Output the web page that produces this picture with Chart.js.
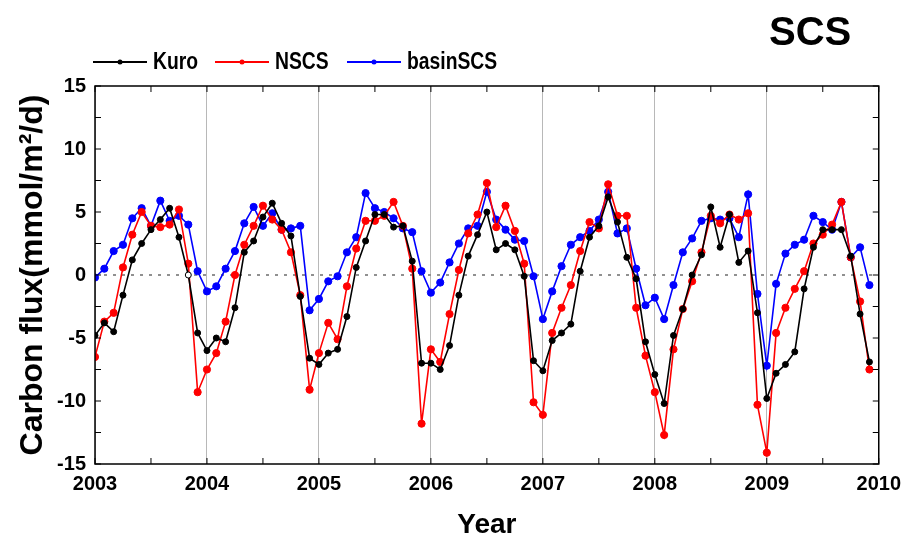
<!DOCTYPE html>
<html lang="en">
<head>
<meta charset="UTF-8">
<title>SCS carbon flux</title>
<script src="https://cdn.jsdelivr.net/npm/chart.js@4.4.1/dist/chart.umd.min.js"></script>
<style>
  html, body { margin: 0; padding: 0; background: #fff; }
  #wrap { width: 909px; height: 542px; }
</style>
</head>
<body>
<div id="wrap"><canvas id="fluxChart" width="909" height="542"></canvas></div>
<script>
    // monthly values, Jan 2003 .. Dec 2009 (mmol/m2/d)
    var startYear = 2003;
    var kuro = [
        -4.8, -3.8, -4.5, -1.6, 1.2, 2.5, 3.6, 4.4, 5.3, 3.0, 0.0, -4.6,
        -6.0, -5.0, -5.3, -2.6, 1.8, 2.7, 4.6, 5.7, 4.1, 3.1, -1.7, -6.6,
        -7.1, -6.2, -5.9, -3.3, 0.6, 2.7, 4.8, 4.8, 3.8, 3.9, 1.1, -7.0,
        -7.0, -7.5, -5.6, -1.6, 1.5, 3.2, 5.0, 2.0, 2.5, 2.0, -0.1, -6.8,
        -7.6, -5.2, -4.6, -3.9, 0.3, 3.0, 3.9, 6.2, 4.2, 1.4, -0.3, -5.3,
        -7.9, -10.2, -4.8, -2.7, 0.0, 1.6, 5.4, 2.2, 4.8, 1.0, 1.9, -3.0,
        -9.8, -7.8, -7.1, -6.1, -1.1, 2.2, 3.6, 3.6, 3.6, 1.5, -3.1, -6.9
    ];
    var nscs = [
        -6.5, -3.7, -3.0, 0.6, 3.2, 5.0, 3.9, 3.8, 4.0, 5.2, 0.9, -9.3,
        -7.5, -6.2, -3.7, 0.0, 2.4, 3.9, 5.5, 4.4, 3.6, 1.8, -1.6, -9.1,
        -6.2, -3.8, -5.1, -0.9, 2.1, 4.3, 4.3, 4.7, 5.8, 3.9, 0.5, -11.8,
        -5.9, -6.9, -3.1, 0.4, 3.3, 4.8, 7.3, 3.8, 5.5, 3.5, 0.9, -10.1,
        -11.1, -4.6, -2.6, -0.8, 1.9, 4.2, 3.7, 7.2, 4.7, 4.7, -2.6, -6.4,
        -9.3, -12.7, -5.9, -2.7, -0.5, 1.8, 4.7, 4.1, 4.8, 4.4, 4.9, -10.3,
        -14.1, -4.6, -2.6, -1.1, 0.3, 2.5, 3.2, 4.0, 5.8, 1.4, -2.1, -7.5
    ];
    var basinSCS = [
        -0.2, 0.5, 1.9, 2.4, 4.5, 5.3, 3.9, 5.9, 4.3, 4.7, 4.0, 0.3,
        -1.3, -0.9, 0.5, 1.9, 4.1, 5.4, 3.9, 4.9, 3.6, 3.7, 3.9, -2.8,
        -1.9, -0.5, -0.1, 1.8, 3.0, 6.5, 5.3, 5.0, 4.5, 3.7, 3.4, 0.3,
        -1.4, -0.6, 1.0, 2.5, 3.7, 3.9, 6.6, 4.4, 3.6, 2.8, 2.7, -0.1,
        -3.5, -1.3, 0.7, 2.4, 3.0, 3.5, 4.4, 6.6, 3.3, 3.7, 0.5, -2.4,
        -1.8, -3.5, -0.8, 1.8, 2.9, 4.3, 4.5, 4.4, 4.5, 3.0, 6.4, -1.5,
        -7.2, -0.7, 1.7, 2.4, 2.8, 4.7, 4.2, 3.6, 5.8, 1.4, 2.2, -0.8
    ];
    var seriesNames = ['Kuro', 'NSCS', 'basinSCS'];
    var seriesColors = ['#000000', '#ff0000', '#0000ff'];
    var yearRange = [2003, 2010];
    var fluxRange = [-15, 15];
    var panelName = 'SCS';

    var SANS = "'Liberation Sans', Arial, sans-serif";

    function toPoints(values) {
        return values.map(function (v, i) {
            return { x: startYear + i / 12, y: v };
        });
    }

    // frame, inward ticks, dotted zero line, legend and panel label
    var decorPlugin = {
        id: 'decor',
        beforeDatasetsDraw: function (chart) {
            var ctx = chart.ctx, area = chart.chartArea;
            var y0 = chart.scales.y.getPixelForValue(0);
            ctx.save();
            ctx.strokeStyle = '#909090';
            ctx.lineWidth = 2;
            ctx.setLineDash([3, 6]);
            ctx.beginPath();
            ctx.moveTo(area.left, y0);
            ctx.lineTo(area.right, y0);
            ctx.stroke();
            ctx.restore();
        },
        afterDatasetsDraw: function (chart) {
            var ctx = chart.ctx, a = chart.chartArea;
            var xs = chart.scales.x, ys = chart.scales.y;
            ctx.save();
            ctx.strokeStyle = '#000';
            ctx.lineWidth = 1;
            ctx.beginPath();
            for (var t = yearRange[0]; t <= yearRange[1]; t += 0.5) {
                var px = xs.getPixelForValue(t);
                ctx.moveTo(px, a.bottom); ctx.lineTo(px, a.bottom - 6);
                ctx.moveTo(px, a.top); ctx.lineTo(px, a.top + 6);
            }
            for (var v = fluxRange[0]; v <= fluxRange[1]; v += 2.5) {
                var py = ys.getPixelForValue(v);
                ctx.moveTo(a.left, py); ctx.lineTo(a.left + 6, py);
                ctx.moveTo(a.right, py); ctx.lineTo(a.right - 6, py);
            }
            ctx.stroke();
            ctx.lineWidth = 1.5;
            ctx.strokeRect(a.left, a.top, a.right - a.left, a.bottom - a.top);
            ctx.restore();
        },
        afterDraw: function (chart) {
            var ctx = chart.ctx;
            ctx.save();
            // legend (condensed lettering like the original)
            var slots = [93, 215, 347];
            var ly = 62;
            chart.data.datasets.forEach(function (ds, i) {
                var x0 = slots[i];
                ctx.strokeStyle = ds.borderColor;
                ctx.lineWidth = 2;
                ctx.beginPath();
                ctx.moveTo(x0, ly); ctx.lineTo(x0 + 54, ly);
                ctx.stroke();
                ctx.fillStyle = ds.borderColor;
                ctx.beginPath();
                ctx.arc(x0 + 27, ly, 2.5, 0, Math.PI * 2);
                ctx.fill();
                ctx.save();
                ctx.translate(x0 + 60, ly + 1);
                ctx.scale(0.84, 1);
                ctx.fillStyle = '#000';
                ctx.font = 'bold 23px ' + SANS;
                ctx.textBaseline = 'middle';
                ctx.textAlign = 'left';
                ctx.fillText(ds.label, 0, 0);
                ctx.restore();
            });
            // panel label
            ctx.fillStyle = '#000';
            ctx.font = 'bold 40px ' + SANS;
            ctx.textBaseline = 'alphabetic';
            ctx.fillText(panelName, 769, 45);
            ctx.restore();
        }
    };

    var datasets = [kuro, nscs, basinSCS].map(function (vals, i) {
        return {
            label: seriesNames[i],
            data: toPoints(vals),
            borderColor: seriesColors[i],
            backgroundColor: seriesColors[i],
            borderWidth: 1.6,
            pointRadius: i === 0 ? 3 : 3.6,
            pointBorderWidth: 1,
            pointBorderColor: seriesColors[i],
            pointBackgroundColor: i === 0
                ? function (c) { return c.dataIndex === 10 ? '#ffffff' : '#000000'; }
                : seriesColors[i],
            tension: 0
        };
    });

    new Chart(document.getElementById('fluxChart'), {
        type: 'line',
        data: { datasets: datasets },
        options: {
            responsive: false,
            animation: false,
            devicePixelRatio: 1,
            layout: { padding: { top: 86, right: 26, left: 0, bottom: 0 } },
            plugins: {
                legend: { display: false },
                tooltip: { enabled: false }
            },
            scales: {
                x: {
                    type: 'linear',
                    min: yearRange[0],
                    max: yearRange[1],
                    afterFit: function (s) { s.height = 78; },
                    ticks: {
                        stepSize: 1,
                        padding: 8,
                        color: '#000',
                        font: { family: SANS, size: 20, weight: 'bold' },
                        callback: function (v) { return String(v); }
                    },
                    grid: { color: '#b8b8b8', lineWidth: 1, drawTicks: false },
                    border: { display: false },
                    title: {
                        display: true,
                        text: 'Year',
                        color: '#000',
                        font: { family: SANS, size: 28, weight: 'bold' },
                        padding: { top: 0, bottom: 0 }
                    }
                },
                y: {
                    min: fluxRange[0],
                    max: fluxRange[1],
                    afterFit: function (s) { s.width = 95; },
                    ticks: {
                        stepSize: 5,
                        padding: 9,
                        color: '#000',
                        font: { family: SANS, size: 20, weight: 'bold' }
                    },
                    grid: { display: false, drawTicks: false },
                    border: { display: false },
                    title: {
                        display: true,
                        text: 'Carbon flux(mmol/m\u00b2/d)',
                        color: '#000',
                        font: { family: SANS, size: 32, weight: 'bold' },
                        padding: { top: 14, bottom: 0 }
                    }
                }
            }
        },
        plugins: [decorPlugin]
    });
</script>
</body>
</html>
